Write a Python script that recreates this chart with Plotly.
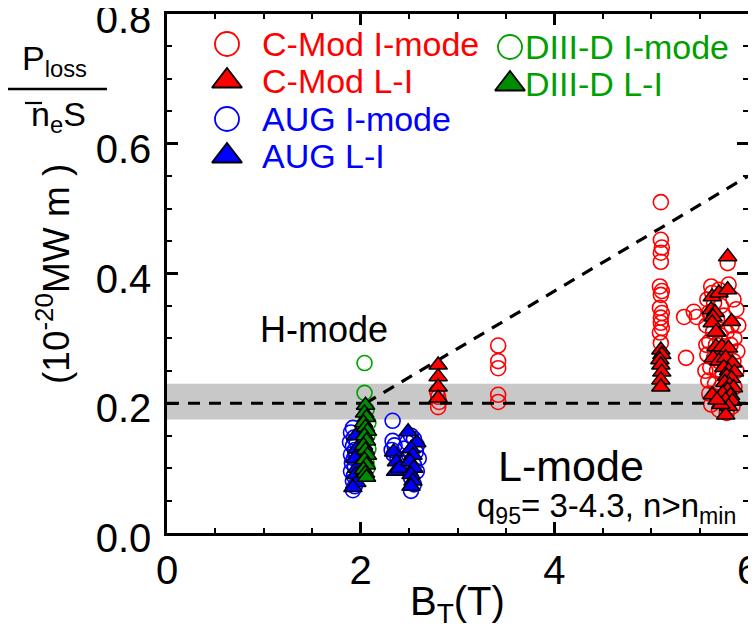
import plotly.graph_objects as go

# ---------------- data ----------------
cmod_imode_x = [2.79, 2.80, 2.81, 2.80,
                3.42, 3.42, 3.42, 3.42, 3.42,
                5.10, 5.10, 5.11, 5.10, 5.10, 5.09, 5.11, 5.10, 5.09, 5.11, 5.10, 5.10, 5.11, 5.09, 5.10,
                5.34, 5.44, 5.47, 5.36,
                5.62, 5.80, 5.79, 5.58, 5.65, 5.72, 5.85, 5.88, 5.60, 5.68, 5.75, 5.83, 5.57, 5.64,
                5.71, 5.78, 5.86, 5.60, 5.67, 5.74, 5.82, 5.89, 5.58, 5.65, 5.70, 5.77, 5.85, 5.61,
                5.68, 5.74, 5.81, 5.88, 5.59, 5.66, 5.72, 5.79, 5.86, 5.60, 5.67, 5.73, 5.80, 5.62,
                5.70, 5.78, 5.84, 5.56, 5.57, 5.63, 5.70, 5.90]
cmod_imode_y = [0.218, 0.210, 0.202, 0.194,
                0.289, 0.265, 0.254, 0.213, 0.202,
                0.510, 0.452, 0.440, 0.432, 0.418, 0.380, 0.373, 0.367, 0.347, 0.339, 0.332, 0.324, 0.316, 0.309, 0.293,
                0.333, 0.341, 0.333, 0.270,
                0.380, 0.383, 0.416, 0.360, 0.355, 0.350, 0.360, 0.345, 0.340, 0.330, 0.335, 0.320, 0.320, 0.310,
                0.305, 0.310, 0.300, 0.295, 0.290, 0.285, 0.290, 0.280, 0.275, 0.270, 0.265, 0.260, 0.265, 0.255,
                0.250, 0.245, 0.240, 0.250, 0.235, 0.230, 0.225, 0.220, 0.225, 0.215, 0.210, 0.205, 0.200, 0.198,
                0.190, 0.185, 0.195, 0.250, 0.290, 0.370, 0.375, 0.320]

cmod_li_x = [2.80, 2.80, 2.80, 2.80,
             5.10, 5.11, 5.09, 5.10, 5.11, 5.10, 5.10,
             5.79, 5.63, 5.70, 5.79, 5.62, 5.66, 5.64, 5.83, 5.68, 5.67, 5.73, 5.80, 5.64, 5.70,
             5.77, 5.84, 5.75, 5.80, 5.86, 5.78, 5.83, 5.76, 5.81, 5.85, 5.79, 5.74, 5.82, 5.63,
             5.77, 5.84, 5.80, 5.77, 5.72, 5.68, 5.63, 5.67]
cmod_li_y = [0.259, 0.241, 0.225, 0.208,
             0.282, 0.275, 0.267, 0.259, 0.248, 0.236, 0.225,
             0.426, 0.364, 0.370, 0.375, 0.344, 0.340, 0.333, 0.326, 0.310, 0.287, 0.287, 0.285, 0.270, 0.265,
             0.270, 0.262, 0.255, 0.250, 0.248, 0.242, 0.238, 0.232, 0.228, 0.224, 0.220, 0.215, 0.212, 0.213,
             0.205, 0.203, 0.195, 0.182, 0.198, 0.205, 0.324, 0.310]

aug_imode_x = [1.92, 1.90, 1.93, 1.89, 1.92, 1.94, 1.90, 1.93, 1.91, 1.94, 1.90, 1.93, 1.92, 1.94, 1.92, 1.95, 1.96,
               2.33,
               2.33, 2.35, 2.32, 2.34, 2.38, 2.45, 2.52, 2.55, 2.58, 2.57, 2.60, 2.55, 2.58, 2.52, 2.55, 2.52, 2.50, 2.48]
aug_imode_y = [0.162, 0.155, 0.147, 0.140, 0.134, 0.128, 0.121, 0.115, 0.108, 0.102, 0.095, 0.088, 0.080, 0.072, 0.066, 0.120, 0.140,
               0.173,
               0.142, 0.135, 0.128, 0.121, 0.115, 0.130, 0.150, 0.145, 0.135, 0.125, 0.115, 0.105, 0.095, 0.085, 0.075, 0.065, 0.120, 0.140]

aug_li_x = [1.95, 1.96, 1.94, 1.96, 1.95, 1.96, 1.92,
            2.34, 2.37, 2.36, 2.40, 2.49, 2.58, 2.52, 2.54, 2.51, 2.55, 2.52, 2.54, 2.52]
aug_li_y = [0.150, 0.130, 0.115, 0.100, 0.090, 0.078, 0.070,
            0.125, 0.110, 0.095, 0.100, 0.156, 0.139, 0.130, 0.120, 0.110, 0.100, 0.090, 0.080, 0.072]

d3d_imode_x = [2.04, 2.04, 2.06, 2.08, 2.07, 2.08, 2.06, 2.07]
d3d_imode_y = [0.262, 0.216, 0.190, 0.170, 0.150, 0.130, 0.110, 0.100]

d3d_li_x = [2.05, 2.04, 2.06, 2.03, 2.05, 2.07, 2.04, 2.06, 2.03, 2.05, 2.07, 2.04, 2.06, 2.03, 2.05, 2.06]
d3d_li_y = [0.197, 0.185, 0.178, 0.170, 0.163, 0.157, 0.150, 0.142, 0.135, 0.128, 0.120, 0.113, 0.105, 0.098, 0.092, 0.086]

threshold_x = [0.0, 6.0]
threshold_y = [0.2, 0.2]
slope_x = [2.05, 6.0]
slope_y = [0.2, 0.55]
band_lo, band_hi = 0.175, 0.23

x_ticks = [0, 2, 4, 6]
y_ticks = [0.0, 0.2, 0.4, 0.6, 0.8]

legend_names = ["C-Mod I-mode", "C-Mod L-I", "AUG I-mode", "AUG L-I", "DIII-D I-mode", "DIII-D L-I"]

# ---------------- style ----------------
RED = "#ff0000"
BLUE = "#0000ff"
GREEN_TXT = "#00a000"
GREEN_FILL = "#008c00"
FONT = "Liberation Sans, Arial, sans-serif"

OFF = 8  # page body margin
W, H = 756, 628
L, R, T, B = 167 - OFF, 748 - OFF, 14 - OFF, 533 - OFF
PW, PH = R - L, B - T


def px(xs):
    return (xs - OFF - L) / PW


def py(ys):
    return (B - (ys - OFF)) / PH


fig = go.Figure()

CS = 15
TS = 16


def circles(x, y, color):
    fig.add_trace(go.Scatter(x=x, y=y, mode="markers", showlegend=False,
                             marker=dict(symbol="circle-open", size=CS, color=color,
                                         line=dict(width=1.6, color=color))))


def triangles(x, y, color):
    fig.add_trace(go.Scatter(x=x, y=y, mode="markers", showlegend=False,
                             marker=dict(symbol="triangle-up", size=TS, color=color,
                                         line=dict(width=1.5, color="black"))))


circles(cmod_imode_x, cmod_imode_y, RED)
circles(aug_imode_x, aug_imode_y, BLUE)
fig.add_trace(go.Scatter(x=threshold_x, y=threshold_y, mode="lines", showlegend=False,
                         line=dict(color="black", width=3.2, dash="12px,9px")))
fig.add_trace(go.Scatter(x=slope_x, y=slope_y, mode="lines", showlegend=False,
                         line=dict(color="black", width=3.2, dash="12px,9px")))
triangles(cmod_li_x, cmod_li_y, RED)
triangles(aug_li_x, aug_li_y, BLUE)
circles(d3d_imode_x, d3d_imode_y, GREEN_TXT)
triangles(d3d_li_x, d3d_li_y, GREEN_FILL)

# ---------------- manual legend (overlay axes in plot-fraction units) ----------------
leg_col1_x, leg_col2_x = px(227), px(510)
leg_rows1 = [py(44), py(81), py(119), py(156)]
leg_rows2 = [py(47), py(84)]
leg_specs = [
    (leg_col1_x, leg_rows1[0], "circle-open", RED, RED, legend_names[0]),
    (leg_col1_x, leg_rows1[1], "triangle-up", RED, RED, legend_names[1]),
    (leg_col1_x, leg_rows1[2], "circle-open", BLUE, BLUE, legend_names[2]),
    (leg_col1_x, leg_rows1[3], "triangle-up", BLUE, BLUE, legend_names[3]),
    (leg_col2_x, leg_rows2[0], "circle-open", GREEN_TXT, GREEN_TXT, legend_names[4]),
    (leg_col2_x, leg_rows2[1], "triangle-up", GREEN_FILL, GREEN_TXT, legend_names[5]),
]
for lx, ly, sym, mcol, tcol, name in leg_specs:
    if sym == "circle-open":
        mk = dict(symbol=sym, size=24, color=mcol, line=dict(width=1.8, color=mcol))
    else:
        mk = dict(symbol=sym, size=26, color=mcol, line=dict(width=1.8, color="black"))
    fig.add_trace(go.Scatter(x=[lx], y=[ly], mode="markers", xaxis="x2", yaxis="y2",
                             showlegend=False, marker=mk, hoverinfo="skip"))

annos = []
text_x1, text_x2 = px(260), px(523)
for (lx, ly, sym, mcol, tcol, name) in leg_specs:
    tx = text_x1 if lx == leg_col1_x else text_x2
    annos.append(dict(x=tx, y=ly, xref="paper", yref="paper", text=name, showarrow=False,
                      xanchor="left", yanchor="middle", font=dict(family=FONT, size=34, color=tcol)))

# region labels
annos.append(dict(x=1.62, y=0.313, xref="x", yref="y", text="H-mode", showarrow=False,
                  xanchor="center", yanchor="middle",
                  font=dict(family=FONT, size=36, color="black")))
annos.append(dict(x=4.17, y=0.103, xref="x", yref="y", text="L-mode", showarrow=False,
                  xanchor="center", yanchor="middle",
                  font=dict(family=FONT, size=43, color="black")))
annos.append(dict(x=px(738), y=py(508), xref="paper", yref="paper",
                  text="q<sub>95</sub>= 3-4.3, n>n<sub>min</sub>", showarrow=False,
                  xanchor="right", yanchor="middle", font=dict(family=FONT, size=33, color="black")))

# y-axis title (fraction + units)
annos.append(dict(x=px(54), y=py(60), xref="paper", yref="paper", text="P<sub>loss</sub>",
                  xanchor="center", yanchor="middle",
                  showarrow=False, font=dict(family=FONT, size=34, color="black")))
annos.append(dict(x=px(58), y=py(116), xref="paper", yref="paper", text="n<sub>e</sub>S",
                  xanchor="center", yanchor="middle",
                  showarrow=False, font=dict(family=FONT, size=34, color="black")))
annos.append(dict(x=px(53), y=py(274), xref="paper", yref="paper", text="(10<sup>-20</sup>MW m )",
                  xanchor="center", yanchor="middle",
                  textangle=-90, showarrow=False, font=dict(family=FONT, size=37, color="black")))
# x-axis title
annos.append(dict(x=3.0, y=py(604), xref="x", yref="paper", text="B<sub>T</sub>(T)",
                  xanchor="center", yanchor="middle",
                  showarrow=False, font=dict(family=FONT, size=40, color="black")))

shapes = [
    dict(type="rect", xref="x domain", yref="y", x0=0, x1=1, y0=band_lo, y1=band_hi,
         fillcolor="#c8c8c8", line=dict(width=0), layer="below"),
    dict(type="line", xref="paper", yref="paper", x0=px(7), x1=px(107), y0=py(89), y1=py(89),
         line=dict(color="black", width=2.5)),
    dict(type="line", xref="paper", yref="paper", x0=px(25), x1=px(42), y0=py(103), y1=py(103),
         line=dict(color="black", width=2.2)),
]

axis_common = dict(ticks="inside", ticklen=11, tickwidth=2.5, tickcolor="black",
                   showline=True, linewidth=2.5, linecolor="black", mirror="ticks",
                   showgrid=False, zeroline=False, ticklabeloverflow="allow",
                   automargin=False)

fig.update_layout(
    width=W, height=H,
    margin=dict(l=L, r=W - R, t=T, b=H - B, pad=0, autoexpand=False),
    plot_bgcolor="white", paper_bgcolor="white",
    showlegend=False,
    annotations=annos, shapes=shapes,
    xaxis=dict(range=[0, 6], tickvals=x_ticks, ticktext=[str(v) for v in x_ticks],
               minor=dict(dtick=0.5, ticks="inside", ticklen=5, tickwidth=2, tickcolor="black"),
               tickfont=dict(family=FONT, size=40, color="black"),
               **axis_common),
    yaxis=dict(range=[0, 0.8], tickvals=y_ticks, ticktext=[f"{v:.1f}" for v in y_ticks],
               minor=dict(dtick=0.05, ticks="inside", ticklen=5, tickwidth=2, tickcolor="black"),
               tickfont=dict(family=FONT, size=40, color="black"), ticklabelstandoff=5,
               ticklabelshift=5,
               **axis_common),
    xaxis2=dict(range=[0, 1], overlaying="x", visible=False, fixedrange=True, automargin=False),
    yaxis2=dict(range=[0, 1], overlaying="y", visible=False, fixedrange=True, automargin=False),
)

fig.write_html("out.html")
